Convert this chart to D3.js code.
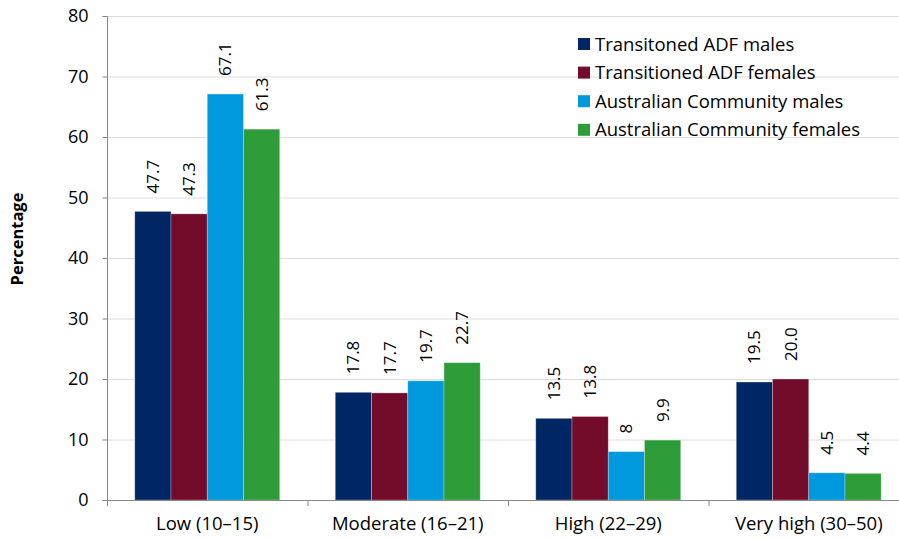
<!DOCTYPE html>
<html><head><meta charset="utf-8">
<script src="https://cdn.jsdelivr.net/npm/d3@7"></script>
<style>body{margin:0;background:#fff}svg{display:block;font-family:"Open Sans",sans-serif}</style>
</head><body><svg id="c" width="899" height="539"></svg>
<script>
const categories = ["Low (10\u201315)", "Moderate (16\u201321)", "High (22\u201329)", "Very high (30\u201350)"];
const seriesNames = ["Transitoned ADF males", "Transitioned ADF females", "Australian Community males", "Australian Community females"];
const colors = ["#002663", "#730b2b", "#0099dd", "#2f9c3a"];
const valuesADFMales = [47.7, 17.8, 13.5, 19.5];
const valuesADFFemales = [47.3, 17.7, 13.8, 20.0];
const valuesCommMales = [67.1, 19.7, 8, 4.5];
const valuesCommFemales = [61.3, 22.7, 9.9, 4.4];
const labelsADFMales = ["47.7", "17.8", "13.5", "19.5"];
const labelsADFFemales = ["47.3", "17.7", "13.8", "20.0"];
const labelsCommMales = ["67.1", "19.7", "8", "4.5"];
const labelsCommFemales = ["61.3", "22.7", "9.9", "4.4"];
const yTicks = [0,10,20,30,40,50,60,70,80];

const series = [valuesADFMales, valuesADFFemales, valuesCommMales, valuesCommFemales];
const labels = [labelsADFMales, labelsADFFemales, labelsCommMales, labelsCommFemales];

const svg = d3.select("#c");
const x0 = 107, x1 = 909, yTop = 16, yBot = 500;
const x = d3.scaleBand().domain(categories).range([x0, x1]).paddingInner(0.277).paddingOuter(0.1385);
const xs = d3.scaleBand().domain(d3.range(4)).range([0, x.bandwidth()]);
const y = d3.scaleLinear().domain([0, 80]).range([yBot, yTop]);

// gridlines
svg.append("g").selectAll("line").data(yTicks.filter(d=>d>0)).join("line")
  .attr("x1", x0).attr("x2", x1).attr("y1", d=>y(d)+0.5).attr("y2", d=>y(d)+0.5)
  .attr("stroke", "#dcdcdc").attr("stroke-width", 1);

// bars
const g = svg.append("g");
categories.forEach((c, i) => {
  series.forEach((s, j) => {
    g.append("rect").attr("x", x(c) + xs(j)).attr("y", y(s[i]))
      .attr("width", xs.bandwidth()).attr("height", y(0) - y(s[i]))
      .attr("fill", colors[j]).attr("stroke", "#ffffff").attr("stroke-opacity", 0.35).attr("stroke-width", 0.8);
    const cx = x(c) + xs(j) + xs.bandwidth()/2;
    g.append("text").attr("transform", `translate(${cx+6},${y(s[i]) - 18}) rotate(-90)`)
      .attr("font-size", 17).attr("fill", "#000").text(labels[j][i]);
  });
});

// y axis
const yAxis = d3.axisLeft(y).tickValues(yTicks).tickSize(5).tickPadding(14);
const ya = svg.append("g").attr("transform", `translate(${x0+0.5},0)`).call(yAxis);
ya.select(".domain").attr("stroke", "#888").attr("d", `M-5,${yTop+0.5}H0V${yBot+0.5}H-5`);
ya.selectAll(".tick line").attr("stroke", "#888");
ya.selectAll(".tick text").attr("font-size", 18).attr("fill", "#000").attr("font-family", "'Open Sans',sans-serif");

// x axis
const xAxis = d3.axisBottom(x).tickSize(0).tickPadding(16);
const xa = svg.append("g").attr("transform", `translate(0,${yBot+0.5})`).call(xAxis);
xa.select(".domain").attr("stroke", "#888").attr("d", `M${x0},0H${x1}`);
xa.selectAll(".tick text").attr("font-size", 18.5).attr("fill", "#000").attr("font-family", "'Open Sans',sans-serif");
const step = x.step();
svg.append("g").selectAll("line").data(d3.range(5)).join("line")
  .attr("x1", d => x0 + 0.5 + d*step).attr("x2", d => x0 + 0.5 + d*step)
  .attr("y1", yBot).attr("y2", yBot + 6).attr("stroke", "#888");

// y title
svg.append("text").attr("transform", `translate(23,239) rotate(-90)`).attr("text-anchor", "middle")
  .attr("font-size", 16.5).attr("font-weight", "bold").text("Percentage");

// legend
const lg = svg.append("g").attr("transform", "translate(578,36)");
seriesNames.forEach((n, i) => {
  lg.append("rect").attr("x", 0).attr("y", i*28.6 + 2).attr("width", 12).attr("height", 12).attr("fill", colors[i]);
  lg.append("text").attr("x", 17).attr("y", i*28.6 + 14.5).attr("font-size", 18.5).text(n);
});
</script></body></html>
